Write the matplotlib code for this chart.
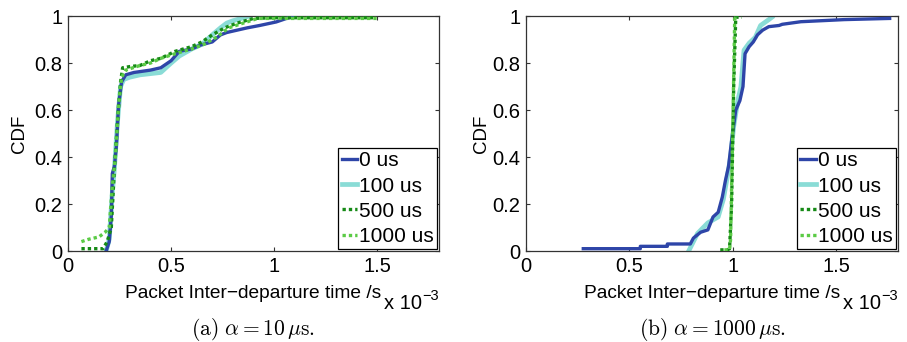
import matplotlib
matplotlib.use('Agg')
import matplotlib.pyplot as plt

plt.rcParams['font.family'] = ['Liberation Sans', 'DejaVu Sans']

# data (x in units of 1e-3 s)
labels = ['0 us', '100 us', '500 us', '1000 us']
colors = ['#2E45A8', '#8ADCD6', '#168A16', '#5BCB45']

# (a) alpha = 10 us
a_x0 = [0.185, 0.20, 0.21, 0.215, 0.225, 0.235, 0.245, 0.26, 0.28, 0.32, 0.40, 0.45, 0.50, 0.54,
        0.60, 0.64, 0.70, 0.74, 0.77, 0.87, 0.93, 1.01, 1.06, 1.10]
a_y0 = [0.0, 0.04, 0.15, 0.33, 0.36, 0.45, 0.62, 0.72, 0.75, 0.76, 0.77, 0.78, 0.81, 0.85,
        0.86, 0.876, 0.89, 0.92, 0.93, 0.95, 0.96, 0.975, 0.99, 1.0]
a_x1 = [0.185, 0.20, 0.215, 0.225, 0.24, 0.255, 0.27, 0.30, 0.35, 0.45, 0.50, 0.54, 0.60, 0.65,
        0.70, 0.74, 0.77, 0.80, 0.88]
a_y1 = [0.0, 0.05, 0.25, 0.35, 0.55, 0.70, 0.73, 0.74, 0.75, 0.76, 0.80, 0.83, 0.86, 0.88,
        0.92, 0.95, 0.97, 0.98, 1.0]
a_x2 = [0.065, 0.17, 0.19, 0.21, 0.225, 0.24, 0.255, 0.265, 0.30, 0.35, 0.40, 0.45, 0.52, 0.60,
        0.65, 0.70, 0.76, 0.82, 0.90, 1.0, 1.48]
a_y2 = [0.01, 0.01, 0.04, 0.10, 0.35, 0.55, 0.72, 0.78, 0.785, 0.79, 0.81, 0.82, 0.85, 0.87,
        0.89, 0.92, 0.95, 0.97, 0.99, 0.993, 0.993]
a_x3 = [0.065, 0.10, 0.15, 0.18, 0.20, 0.215, 0.23, 0.245, 0.26, 0.28, 0.35, 0.40, 0.45, 0.52,
        0.60, 0.66, 0.72, 0.78, 0.85, 0.92, 1.0, 1.5]
a_y3 = [0.04, 0.05, 0.06, 0.08, 0.10, 0.28, 0.40, 0.62, 0.74, 0.77, 0.79, 0.80, 0.82, 0.84,
        0.86, 0.88, 0.91, 0.95, 0.97, 0.99, 0.99, 0.99]

# (b) alpha = 1000 us
b_x0 = [0.277, 0.553, 0.553, 0.684, 0.684, 0.795, 0.81, 0.845, 0.88, 0.905, 0.93, 0.95, 0.965,
        0.98, 0.995, 1.015, 1.035, 1.05, 1.06, 1.08, 1.10, 1.12, 1.145, 1.175, 1.225, 1.24,
        1.33, 1.54, 1.76]
b_y0 = [0.01, 0.01, 0.02, 0.02, 0.03, 0.03, 0.055, 0.08, 0.09, 0.145, 0.165, 0.23, 0.30,
        0.36, 0.47, 0.60, 0.64, 0.70, 0.84, 0.87, 0.89, 0.92, 0.94, 0.955, 0.96, 0.965,
        0.976, 0.985, 0.99]
b_x1 = [0.79, 0.83, 0.88, 0.93, 0.955, 0.975, 0.99, 1.005, 1.025, 1.04, 1.055, 1.08, 1.11,
        1.135, 1.175, 1.19]
b_y1 = [0.005, 0.075, 0.12, 0.145, 0.22, 0.32, 0.40, 0.53, 0.64, 0.70, 0.855, 0.885, 0.91,
        0.96, 0.985, 0.995]
b_x2 = [0.94, 0.975, 0.985, 0.995, 1.005, 1.015, 1.045]
b_y2 = [0.005, 0.005, 0.01, 0.2, 0.7, 0.995, 0.995]
b_x3 = [0.96, 0.985, 0.99, 1.0, 1.01, 1.02]
b_y3 = [0.005, 0.005, 0.05, 0.5, 0.99, 0.995]

xticks = [0, 0.5, 1, 1.5]
yticks = [0, 0.2, 0.4, 0.6, 0.8, 1]

fig = plt.figure(figsize=(9.07, 3.42), dpi=100)
ax1 = fig.add_axes([0.075, 0.266, 0.409, 0.687])
ax2 = fig.add_axes([0.580, 0.266, 0.410, 0.687])

panels = [
    (ax1, [(a_x0, a_y0), (a_x1, a_y1), (a_x2, a_y2), (a_x3, a_y3)],
     r'$\mathrm{(a)}\ \alpha = 10\,\mu\mathrm{s.}$', 5),
    (ax2, [(b_x0, b_y0), (b_x1, b_y1), (b_x2, b_y2), (b_x3, b_y3)],
     r'$\mathrm{(b)}\ \alpha = 1000\,\mu\mathrm{s.}$', 2),
]

styles = [dict(lw=2.4, ls='-', zorder=3),
          dict(lw=3.4, ls='-', zorder=2),
          dict(lw=2.4, ls=(0, (1, 0.9)), zorder=4),
          dict(lw=2.4, ls=(0, (1, 0.9)), zorder=5)]

for ax, series, cap, ypad in panels:
    for (x, y), lab, c, st in zip(series, labels, colors, styles):
        ax.plot(x, y, color=c, label=lab, **st)
    ax.set_xlim(0, 1.8)
    ax.set_ylim(0, 1)
    ax.set_xticks(xticks)
    ax.set_xticklabels(['%g' % t for t in xticks])
    ax.set_yticks(yticks)
    ax.set_yticklabels(['%g' % t for t in yticks])
    ax.tick_params(direction='in', length=3, width=0.8, top=True, right=True,
                   labelsize=14.5, pad=4, color='#333333')
    for sp in ax.spines.values():
        sp.set_linewidth(0.9)
        sp.set_color('#333333')
    ax.set_xlabel('Packet Inter\u2212departure time /s', fontsize=13.8, labelpad=7)
    ax.set_ylabel('CDF', fontsize=13.5, labelpad=ypad)
    leg = ax.legend(loc='lower right', bbox_to_anchor=(0.995, 0.008), borderaxespad=0,
                    fontsize=15, handlelength=0.75, handletextpad=0.1, labelspacing=0.3,
                    borderpad=0.15, fancybox=False, framealpha=1, edgecolor='black')
    leg.get_frame().set_linewidth(0.9)
    # MATLAB-style exponent label
    ax.text(0.955, -0.185, 'x 10', transform=ax.transAxes, ha='right', va='top', fontsize=14.5)
    ax.text(0.955, -0.16, '\u22123', transform=ax.transAxes, ha='left', va='top', fontsize=10.5)
    ax.text(0.5, -0.275, cap, transform=ax.transAxes, ha='center', va='top',
            fontsize=15.5, math_fontfamily='cm')

fig.savefig('out.png', dpi=100)
